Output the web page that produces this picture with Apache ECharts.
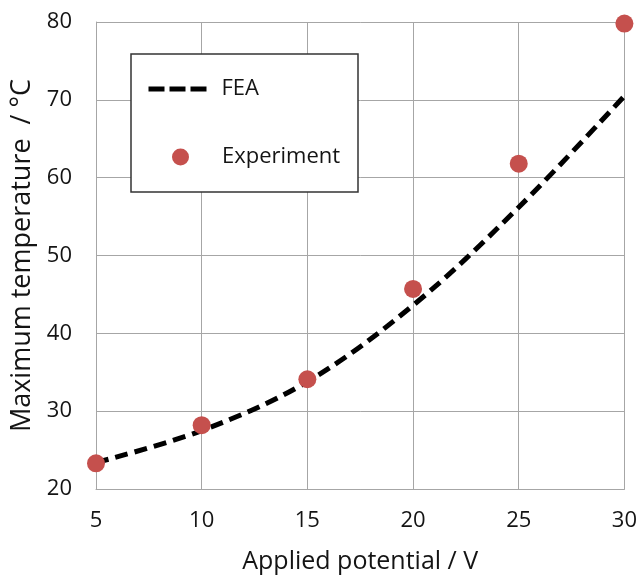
<!DOCTYPE html>
<html>
<head>
<meta charset="utf-8">
<script src="https://cdn.jsdelivr.net/npm/echarts@6/dist/echarts.min.js"></script>
<style>
  html, body { margin: 0; padding: 0; background: #fff; }
  #chart { width: 640px; height: 581px; }
</style>
</head>
<body>
<div id="chart"></div>
<script>
// ---- data ----
const voltage = [5, 10, 15, 20, 25, 30];
const feaTemp = [23.4, 27.5, 33.8, 43.6, 56.2, 70.5];
const expTemp = [23.3, 28.2, 34.1, 45.7, 61.8, 79.8];
const seriesNames = ['FEA', 'Experiment'];
const xTitle = 'Applied potential / V';
const yTitle = 'Maximum temperature  / °C';

const FONT = '"Open Sans", "Noto Sans", sans-serif';
const TXT = '#141414';
const GRIDC = '#a6a6a6';

const chart = echarts.init(document.getElementById('chart'), null, { renderer: 'canvas' });

const option = {
  backgroundColor: '#ffffff',
  animation: false,
  grid: { left: 96, right: 15, top: 22, bottom: 92, containLabel: false },
  xAxis: {
    type: 'value', min: 5, max: 30, interval: 5,
    name: xTitle, nameLocation: 'middle', nameGap: 60,
    nameTextStyle: { fontFamily: FONT, fontSize: 25, color: TXT },
    axisLine: { show: true, lineStyle: { color: GRIDC, width: 1 } },
    axisTick: { show: false },
    axisLabel: { fontFamily: FONT, fontSize: 22, color: TXT, margin: 21 },
    splitLine: { show: true, lineStyle: { color: GRIDC, width: 1 } }
  },
  yAxis: {
    type: 'value', min: 20, max: 80, interval: 10,
    name: yTitle, nameLocation: 'middle', nameGap: 58,
    nameTextStyle: { fontFamily: FONT, fontSize: 27, color: TXT },
    axisLine: { show: true, lineStyle: { color: GRIDC, width: 1 } },
    axisTick: { show: false },
    axisLabel: { fontFamily: FONT, fontSize: 22, color: TXT, margin: 24 },
    splitLine: { show: true, lineStyle: { color: GRIDC, width: 1 } }
  },
  graphic: [{
    type: 'rect', z: 3, silent: true,
    shape: { x: 131, y: 54, width: 227, height: 138 },
    style: { fill: '#ffffff', stroke: '#333333', lineWidth: 1.5 }
  }],
  legend: [{
    data: [{ name: seriesNames[0], itemStyle: { opacity: 0, borderWidth: 0 } }],
    left: 146, top: 78, padding: 0, z: 6,
    itemWidth: 61, itemHeight: 16,
    lineStyle: { type: [16, 5], width: 5, color: '#000' },
    textStyle: { fontFamily: FONT, fontSize: 22, color: TXT, padding: [0, 0, 0, 7] }
  }, {
    data: [seriesNames[1]], left: 172, top: 146, padding: 0, z: 6,
    itemWidth: 17, itemHeight: 17,
    textStyle: { fontFamily: FONT, fontSize: 22, color: TXT, padding: [0, 0, 0, 28] }
  }],
  series: [{
    name: seriesNames[0], type: 'line', smooth: 0.35,
    data: voltage.map((v, i) => [v, feaTemp[i]]),
    symbol: 'none', z: 2,
    lineStyle: { color: '#000', width: 5, type: [13, 7] },
    itemStyle: { color: '#000' }
  }, {
    name: seriesNames[1], type: 'scatter', clip: false,
    data: voltage.map((v, i) => [v, expTemp[i]]),
    symbol: 'circle', symbolSize: 18, z: 3,
    itemStyle: { color: '#c5504d', opacity: 1 }
  }]
};
chart.setOption(option);
</script>
</body>
</html>
